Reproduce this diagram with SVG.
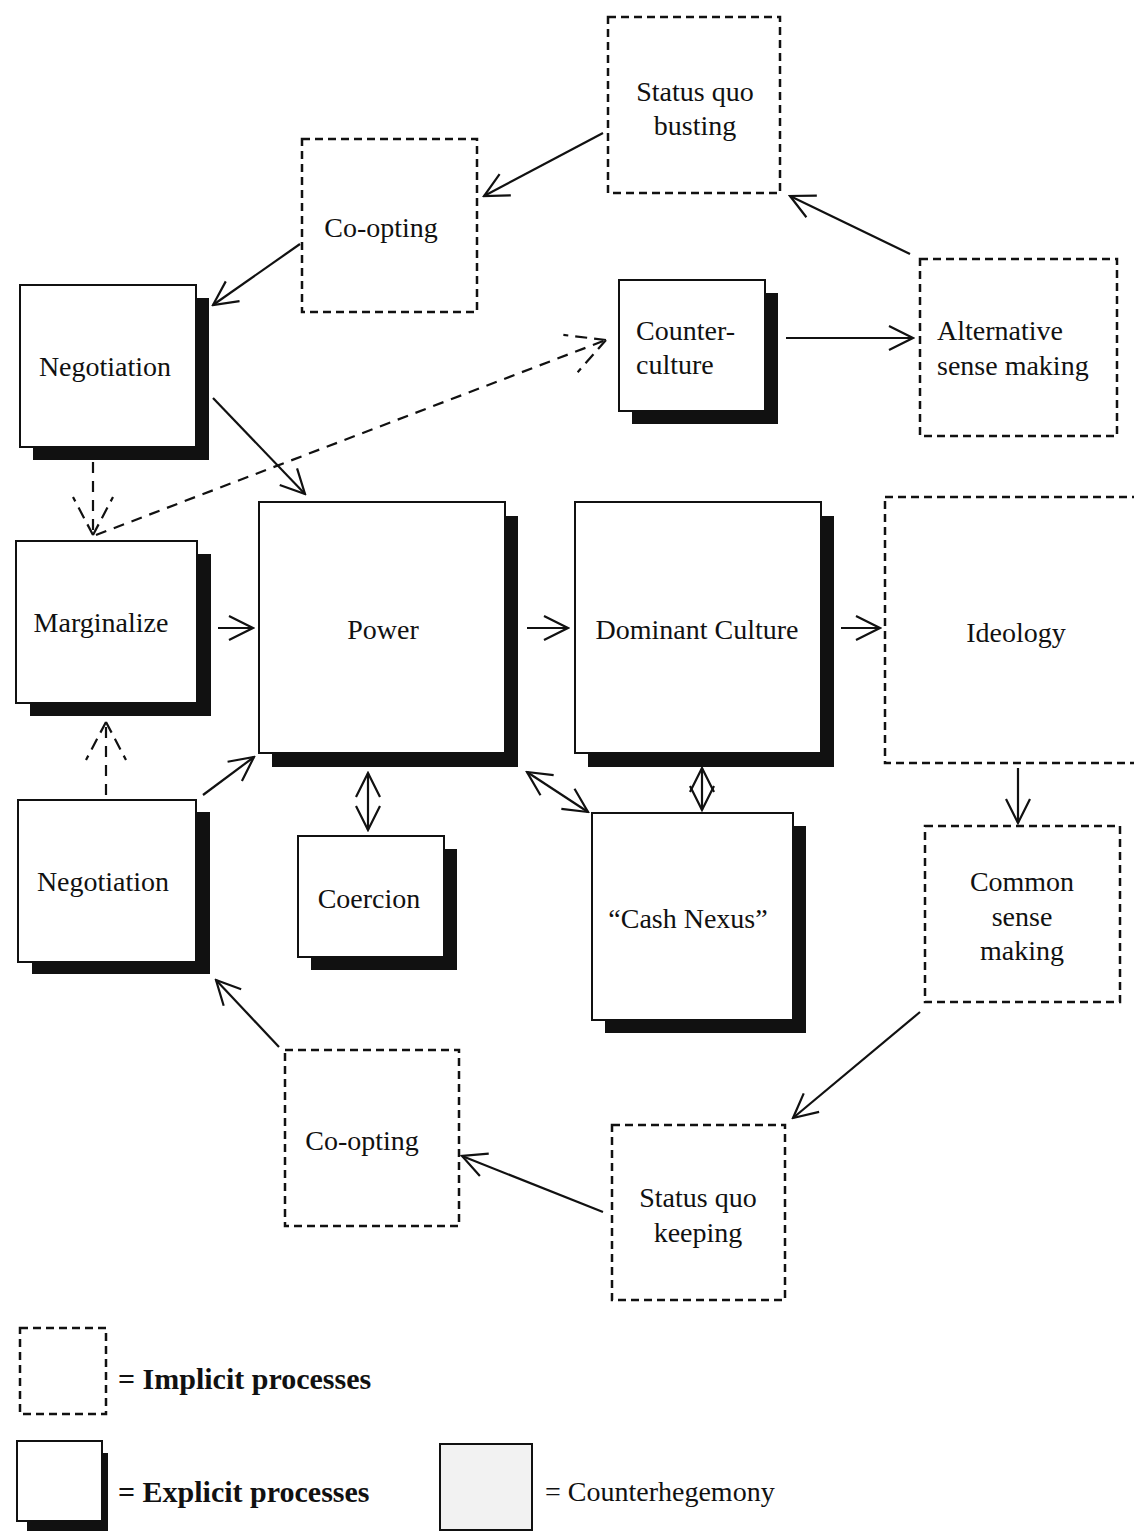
<svg xmlns="http://www.w3.org/2000/svg" width="1134" height="1533" viewBox="0 0 1134 1533">
<style>
text{font-family:"Liberation Serif","Times New Roman",serif;font-size:28px;fill:#111}
.c{text-anchor:middle}
.imp{fill:none;stroke:#111;stroke-width:2.5;stroke-dasharray:8,5}
.exp{fill:#fff;stroke:#111;stroke-width:2}
.sh{fill:#111}
.ln{fill:none;stroke:#111;stroke-width:2.2}
.dl{fill:none;stroke:#111;stroke-width:2.2;stroke-dasharray:11,8}
.b{font-weight:bold;font-size:30px}
</style>
<defs>
<marker id="ah" viewBox="0 0 28 28" refX="26" refY="14" markerWidth="28" markerHeight="28" markerUnits="userSpaceOnUse" orient="auto-start-reverse">
<path d="M2,2 L26,14 L2,26" fill="none" stroke="#111" stroke-width="2.2"/>
</marker>
<marker id="ahd" viewBox="0 0 44 44" refX="41" refY="22" markerWidth="44" markerHeight="44" markerUnits="userSpaceOnUse" orient="auto">
<path d="M41,22 L3,2 M41,22 L3,42" fill="none" stroke="#111" stroke-width="2.2" stroke-dasharray="12,7"/>
</marker>
</defs>
<rect width="1134" height="1533" fill="#fff"/>

<g id="connectors">
<line class="ln" x1="603" y1="133" x2="484" y2="196" marker-end="url(#ah)"/>
<line class="ln" x1="300" y1="244" x2="213" y2="305" marker-end="url(#ah)"/>
<line class="ln" x1="910" y1="254" x2="790" y2="196" marker-end="url(#ah)"/>
<line class="ln" x1="786" y1="338" x2="913" y2="338" marker-end="url(#ah)"/>
<line class="ln" x1="213" y1="398" x2="305" y2="494" marker-end="url(#ah)"/>
<line class="dl" x1="96" y1="535" x2="606" y2="340" marker-end="url(#ahd)"/>
<line class="dl" x1="93" y1="462" x2="93" y2="535" marker-end="url(#ahd)"/>
<line class="ln" x1="218" y1="628" x2="253" y2="628" marker-end="url(#ah)"/>
<line class="ln" x1="527" y1="628" x2="568" y2="628" marker-end="url(#ah)"/>
<line class="ln" x1="841" y1="628" x2="880" y2="628" marker-end="url(#ah)"/>
<line class="ln" x1="1018" y1="768" x2="1018" y2="823" marker-end="url(#ah)"/>
<line class="dl" x1="106" y1="795" x2="106" y2="722" marker-end="url(#ahd)"/>
<line class="ln" x1="203" y1="795" x2="254" y2="757" marker-end="url(#ah)"/>
<line class="ln" x1="368" y1="773" x2="368" y2="830" marker-start="url(#ah)" marker-end="url(#ah)"/>
<line class="ln" x1="527" y1="772" x2="588" y2="812" marker-start="url(#ah)" marker-end="url(#ah)"/>
<line class="ln" x1="702" y1="768" x2="702" y2="810" marker-start="url(#ah)" marker-end="url(#ah)"/>
<line class="ln" x1="920" y1="1012" x2="793" y2="1118" marker-end="url(#ah)"/>
<line class="ln" x1="603" y1="1212" x2="462" y2="1156" marker-end="url(#ah)"/>
<line class="ln" x1="279" y1="1047" x2="216" y2="980" marker-end="url(#ah)"/>
</g>

<g id="status-quo-busting">
<rect class="imp" x="608" y="17" width="172" height="176"/>
<text class="c" x="695" y="101">Status quo</text>
<text class="c" x="695" y="135">busting</text>
</g>
<g id="co-opting-top">
<rect class="imp" x="302" y="139" width="175" height="173"/>
<text class="c" x="381" y="237">Co-opting</text>
</g>
<g id="negotiation-top">
<rect class="sh" x="33" y="298" width="176" height="162"/>
<rect class="exp" x="20" y="285" width="176" height="162"/>
<text class="c" x="105" y="376">Negotiation</text>
</g>
<g id="counter-culture">
<rect class="sh" x="632" y="293" width="146" height="131"/>
<rect class="exp" x="619" y="280" width="146" height="131"/>
<text x="636" y="340">Counter-</text>
<text x="636" y="374">culture</text>
</g>
<g id="alternative-sense-making">
<rect class="imp" x="920" y="259" width="197" height="177"/>
<text x="937" y="340">Alternative</text>
<text x="937" y="375">sense making</text>
</g>
<g id="marginalize">
<rect class="sh" x="30" y="554" width="181" height="162"/>
<rect class="exp" x="16" y="541" width="181" height="162"/>
<text class="c" x="101" y="632">Marginalize</text>
</g>
<g id="power">
<rect class="sh" x="272" y="516" width="246" height="251"/>
<rect class="exp" x="259" y="502" width="246" height="251"/>
<text class="c" x="383" y="639">Power</text>
</g>
<g id="dominant-culture">
<rect class="sh" x="588" y="516" width="246" height="251"/>
<rect class="exp" x="575" y="502" width="246" height="251"/>
<text class="c" x="697" y="639">Dominant Culture</text>
</g>
<g id="ideology">
<rect class="imp" x="885" y="497" width="260" height="266"/>
<text class="c" x="1016" y="642">Ideology</text>
</g>
<g id="negotiation-bottom">
<rect class="sh" x="32" y="812" width="178" height="162"/>
<rect class="exp" x="18" y="800" width="178" height="162"/>
<text class="c" x="103" y="891">Negotiation</text>
</g>
<g id="coercion">
<rect class="sh" x="311" y="849" width="146" height="121"/>
<rect class="exp" x="298" y="836" width="146" height="121"/>
<text class="c" x="369" y="908">Coercion</text>
</g>
<g id="cash-nexus">
<rect class="sh" x="605" y="826" width="201" height="207"/>
<rect class="exp" x="592" y="813" width="201" height="207"/>
<text class="c" x="688" y="928">“Cash Nexus”</text>
</g>
<g id="common-sense-making">
<rect class="imp" x="925" y="826" width="195" height="176"/>
<text class="c" x="1022" y="891">Common</text>
<text class="c" x="1022" y="926">sense</text>
<text class="c" x="1022" y="960">making</text>
</g>
<g id="co-opting-bottom">
<rect class="imp" x="285" y="1050" width="174" height="176"/>
<text class="c" x="362" y="1150">Co-opting</text>
</g>
<g id="status-quo-keeping">
<rect class="imp" x="612" y="1125" width="173" height="175"/>
<text class="c" x="698" y="1207">Status quo</text>
<text class="c" x="698" y="1242">keeping</text>
</g>

<g id="legend">
<rect class="imp" x="20" y="1328" width="86" height="86"/>
<text class="b" x="118" y="1389">= Implicit processes</text>
<rect class="sh" x="27" y="1453" width="81" height="78"/>
<rect class="exp" x="17" y="1441" width="85" height="80"/>
<text class="b" x="118" y="1502">= Explicit processes</text>
<rect x="440" y="1444" width="92" height="86" fill="#f2f2f2" stroke="#111" stroke-width="2"/>
<text x="545" y="1501">= Counterhegemony</text>
</g>
</svg>
